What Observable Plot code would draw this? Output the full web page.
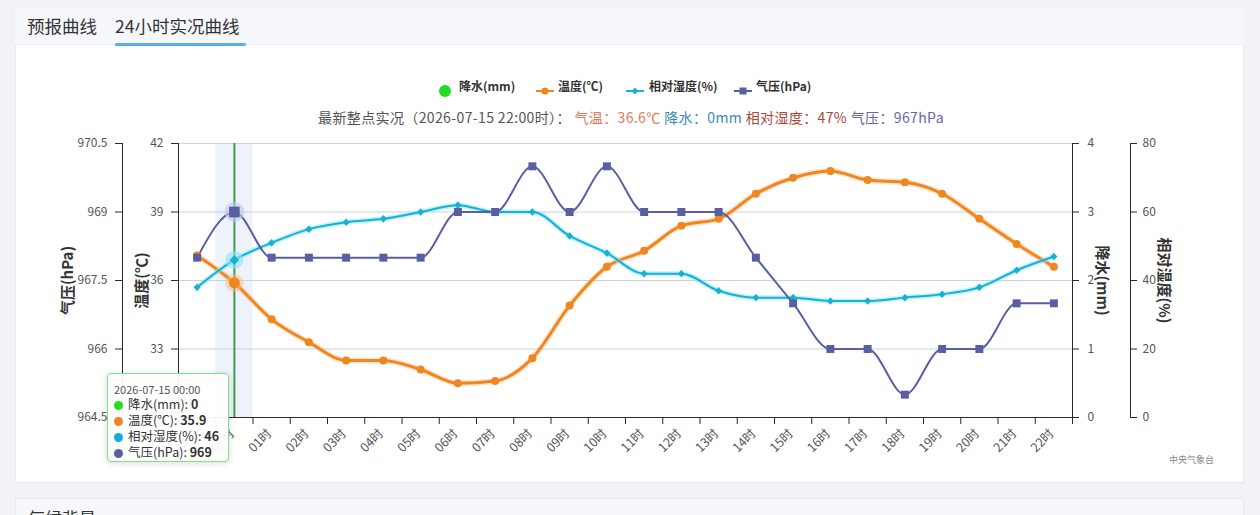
<!DOCTYPE html>
<html>
<head>
<meta charset="utf-8">
<script src="https://cdn.jsdelivr.net/npm/d3@7"></script>
<script src="https://cdn.jsdelivr.net/npm/@observablehq/plot@0.6"></script>
<style>
html,body{margin:0;padding:0;width:1260px;height:515px;overflow:hidden;background:#f1f3f6;font-family:"Noto Sans CJK SC","Noto Sans",sans-serif;}
.abs{position:absolute;white-space:nowrap;}
#card{position:absolute;left:15px;top:7px;width:1229px;height:476px;background:#fff;border:1px solid #e7eaef;box-sizing:border-box;}
#tabs{position:absolute;left:15px;top:7px;width:1229px;height:38px;background:#f5f7fb;border-bottom:1px solid #eceff3;box-sizing:border-box;}
.tab{font-size:17.5px;color:#333;top:13px;line-height:26px;}
#underline{position:absolute;left:115px;top:43px;width:131px;height:3px;background:#5aaeea;border-radius:2px;}
#card2{position:absolute;left:15px;top:498px;width:1229px;height:40px;background:#f6f8fb;border:1px solid #e7eaef;box-sizing:border-box;}
.leg{top:78px;font-size:12px;font-weight:bold;color:#333;line-height:16px;}
#subtitle{left:318px;top:107px;font-size:14px;letter-spacing:0.38px;color:#555;line-height:20px;}
#chart{position:absolute;left:0;top:130px;}
#tooltip{position:absolute;left:107px;top:373px;width:122px;height:89px;box-sizing:border-box;border:1.5px solid #86de86;border-radius:4px;background:rgba(255,255,255,0.93);box-shadow:0 1px 6px rgba(0,0,0,0.15);font-size:12.5px;color:#333;}
#tooltip .date{position:absolute;left:6px;top:7px;font-size:11px;color:#555;}
#tooltip .row{position:absolute;left:6px;line-height:15px;}
#tooltip .dot{display:inline-block;width:9px;height:9px;border-radius:50%;margin-right:5px;vertical-align:-1px;}
#credit{left:1169px;top:453px;font-size:9px;color:#888;}
</style>
</head>
<body>
<div id="card"></div>
<div id="tabs"></div>
<div class="abs tab" style="left:27px;">预报曲线</div>
<div class="abs tab" style="left:115px;">24小时实况曲线</div>
<div id="underline"></div>
<div id="legend"></div>
<div id="subtitle" class="abs"></div>
<div id="chart"></div>
<div id="tooltip"></div>
<div id="credit" class="abs">中央气象台</div>
<div id="card2"><div class="abs" style="left:12px;top:6px;font-size:17px;color:#333;">气候背景</div></div>
<script>
// ---------------- data ----------------
const hours = ["23时","00时","01时","02时","03时","04时","05时","06时","07时","08时","09时","10时",
               "11时","12时","13时","14时","15时","16时","17时","18时","19时","20时","21时","22时"];
const precip   = [0,0,0,0,0,0,0,0,0,0,0,0,0,0,0,0,0,0,0,0,0,0,0,0];
const temp     = [37.1,35.9,34.3,33.3,32.5,32.5,32.1,31.5,31.6,32.6,34.9,36.6,
                  37.3,38.4,38.7,39.8,40.5,40.8,40.4,40.3,39.8,38.7,37.6,36.6];
const humidity = [38,46,51,55,57,58,60,62,60,60,53,48,42,42,37,35,35,34,34,35,36,38,43,47];
const pressure = [968,969,968,968,968,968,968,969,969,970,969,970,969,969,969,968,967,966,966,965,966,966,967,967];
const tempTicks     = [30,33,36,39,42];
const pressureTicks = [964.5,966,967.5,969,970.5];
const precipTicks   = [0,1,2,3,4];
const humidityTicks = [0,20,40,60,80];
const hoverIndex = 1;
const hoverDate = "2026-07-15 00:00";
const latestTime = "2026-07-15 22:00时";
const seriesNames = ["降水(mm)","温度(℃)","相对湿度(%)","气压(hPa)"];
const colors = {rain:"#22dd22", temp:"#f0861f", hum:"#16b1d4", pres:"#5a5ea3"};

// ---------------- mapping every series onto the shared (temperature) y scale ----------------
const T0 = d3.min(tempTicks), T1 = d3.max(tempTicks);
const lin = (ticks) => { const a = d3.min(ticks), b = d3.max(ticks); return v => T0 + (v - a) / (b - a) * (T1 - T0); };
const fromPressure = lin(pressureTicks), fromHumidity = lin(humidityTicks), fromPrecip = lin(precipTicks);

const data = hours.map((h, i) => ({i, h, rain: precip[i], temp: temp[i], hum: humidity[i], pres: pressure[i]}));
const hover = data.filter(d => d.i === hoverIndex);
const n = hours.length;
const xLo = -0.5, xHi = n - 0.5;
const boundaries = d3.range(n + 1).map(k => k - 0.5);

// ---------------- layout ----------------
const W = 1260, H = 345, mL = 178, mR = 188, mT = 13, mB = 58;
const pxX = (W - mL - mR) / n;              // pixels per category
const pxY = (H - mT - mB) / (T1 - T0);      // pixels per °C
const tickX = 7 / pxX, tickY = 7 / pxY;     // tick length in data units
const offPres = -56, offHum = 58;           // extra axis offsets

const diamond = {draw(ctx, size) { const r = Math.sqrt(size / Math.PI); ctx.moveTo(0,-r); ctx.lineTo(r*0.92,0); ctx.lineTo(0,r); ctx.lineTo(-r*0.92,0); ctx.closePath(); }};

const axisColor = "#2b2b2b", labelColor = "#555";
const titleStyle = {fontWeight: "bold", fontSize: 15, fill: "#333"};

const chart = Plot.plot({
  width: W, height: H,
  marginLeft: mL, marginRight: mR, marginTop: mT, marginBottom: mB,
  x: {type: "linear", domain: [xLo, xHi], axis: null},
  y: {type: "linear", domain: [T0, T1], axis: null},
  style: {fontFamily: '"Noto Sans CJK SC","Noto Sans",sans-serif', fontSize: "12px", background: "transparent", overflow: "visible"},
  marks: [
    // hover band
    Plot.rect([hoverIndex], {x1: d => d - 0.5, x2: d => d + 0.5, y1: T0, y2: T1, fill: "#eef2fb"}),
    // grid
    Plot.ruleY(tempTicks.filter(t => t !== T0), {stroke: "#c9d3dd", strokeWidth: 1}),
    // precipitation bars (all zero)
    Plot.rect(data, {x1: d => d.i - 0.3, x2: d => d.i + 0.3, y1: T0, y2: d => fromPrecip(d.rain), fill: colors.rain}),
    // hover line
    Plot.ruleX([hoverIndex], {y1: T0, y2: T1, stroke: "#3e9b52", strokeWidth: 2}),
    // axis lines
    Plot.ruleX([xLo], {y1: T0, y2: T1, stroke: axisColor}),
    Plot.ruleX([xLo], {y1: T0, y2: T1, stroke: axisColor, dx: offPres}),
    Plot.ruleX([xHi], {y1: T0, y2: T1, stroke: axisColor}),
    Plot.ruleX([xHi], {y1: T0, y2: T1, stroke: axisColor, dx: offHum}),
    Plot.ruleY([T0], {x1: xLo, x2: xHi, stroke: axisColor}),
    // x ticks + labels
    Plot.ruleX(boundaries, {y1: T0, y2: T0 - tickY, stroke: axisColor}),
    Plot.text(data, {x: "i", y: T0, text: "h", dy: 14, dx: -2, rotate: -45, textAnchor: "end", lineAnchor: "middle", fill: labelColor, fontSize: 12.5}),
    // temperature axis
    Plot.ruleY(tempTicks, {x1: xLo - tickX, x2: xLo, stroke: axisColor}),
    Plot.text(tempTicks, {x: xLo, y: d => d, text: d => String(d), dx: -15, textAnchor: "end", fill: labelColor}),
    // pressure axis
    Plot.ruleY(pressureTicks, {x1: xLo - tickX, x2: xLo, y: d => fromPressure(d), stroke: axisColor, dx: offPres}),
    Plot.text(pressureTicks, {x: xLo, y: d => fromPressure(d), text: d => String(d), dx: offPres - 15, textAnchor: "end", fill: labelColor}),
    // precipitation axis
    Plot.ruleY(precipTicks, {x1: xHi, x2: xHi + tickX, y: d => fromPrecip(d), stroke: axisColor}),
    Plot.text(precipTicks, {x: xHi, y: d => fromPrecip(d), text: d => String(d), dx: 15, textAnchor: "start", fill: labelColor}),
    // humidity axis
    Plot.ruleY(humidityTicks, {x1: xHi, x2: xHi + tickX, y: d => fromHumidity(d), stroke: axisColor, dx: offHum}),
    Plot.text(humidityTicks, {x: xHi, y: d => fromHumidity(d), text: d => String(d), dx: offHum + 12, textAnchor: "start", fill: labelColor}),
    // axis titles
    Plot.text([seriesNames[3]], {x: xLo, y: (T0 + T1) / 2, dx: -110, rotate: -90, ...titleStyle}),
    Plot.text([seriesNames[1]], {x: xLo, y: (T0 + T1) / 2, dx: -36, rotate: -90, ...titleStyle}),
    Plot.text([seriesNames[0]], {x: xHi, y: (T0 + T1) / 2, dx: 29, rotate: 90, ...titleStyle}),
    Plot.text([seriesNames[2]], {x: xHi, y: (T0 + T1) / 2, dx: 91, rotate: 90, ...titleStyle}),
    // lines
    Plot.line(data, {x: "i", y: "temp", curve: "monotone-x", stroke: "#f8bf86", strokeWidth: 6, strokeOpacity: 0.4}),
    Plot.line(data, {x: "i", y: "temp", curve: "monotone-x", stroke: colors.temp, strokeWidth: 3}),
    Plot.line(data, {x: "i", y: d => fromHumidity(d.hum), curve: "monotone-x", stroke: "#86e6f7", strokeWidth: 5, strokeOpacity: 0.5}),
    Plot.line(data, {x: "i", y: d => fromHumidity(d.hum), curve: "monotone-x", stroke: colors.hum, strokeWidth: 2}),
    Plot.line(data, {x: "i", y: d => fromPressure(d.pres), curve: "monotone-x", stroke: colors.pres, strokeWidth: 2}),
    // markers
    Plot.dot(data, {x: "i", y: "temp", r: 4, fill: colors.temp}),
    Plot.dot(data, {x: "i", y: d => fromHumidity(d.hum), r: 3.8, symbol: diamond, fill: colors.hum}),
    Plot.dot(data, {x: "i", y: d => fromPressure(d.pres), r: 4.5, symbol: "square", fill: colors.pres}),
    // hover emphasis
    Plot.dot(hover, {x: "i", y: "temp", r: 9, fill: "#f8b878", fillOpacity: 0.45}),
    Plot.dot(hover, {x: "i", y: "temp", r: 5.5, fill: colors.temp}),
    Plot.dot(hover, {x: "i", y: d => fromHumidity(d.hum), r: 9, fill: "#8fe3f5", fillOpacity: 0.6}),
    Plot.dot(hover, {x: "i", y: d => fromHumidity(d.hum), r: 5, symbol: diamond, fill: colors.hum}),
    Plot.dot(hover, {x: "i", y: d => fromPressure(d.pres), r: 10, fill: "#c3c6e6", fillOpacity: 0.6}),
    Plot.dot(hover, {x: "i", y: d => fromPressure(d.pres), r: 6, symbol: "square", fill: colors.pres})
  ]
});
document.getElementById("chart").appendChild(chart);

// ---------------- legend ----------------
const legendItems = [
  {name: seriesNames[0], color: colors.rain, icon: "circle", cx: 445, tx: 459},
  {name: seriesNames[1], color: colors.temp, icon: "lineCircle", cx: 545, tx: 558},
  {name: seriesNames[2], color: colors.hum, icon: "lineDiamond", cx: 635, tx: 649},
  {name: seriesNames[3], color: colors.pres, icon: "lineSquare", cx: 743, tx: 756}
];
const leg = document.getElementById("legend");
for (const it of legendItems) {
  let svg;
  if (it.icon === "circle") svg = `<svg width="14" height="14"><circle cx="7" cy="7" r="6" fill="${it.color}"/></svg>`;
  else {
    let m = it.icon === "lineCircle" ? `<circle cx="9" cy="7" r="3.5" fill="${it.color}"/>`
          : it.icon === "lineDiamond" ? `<path d="M9,3.5L12.5,7L9,10.5L5.5,7Z" fill="${it.color}"/>`
          : `<rect x="5.5" y="3.5" width="7" height="7" fill="${it.color}"/>`;
    svg = `<svg width="18" height="14"><line x1="0" y1="7" x2="18" y2="7" stroke="${it.color}" stroke-width="2"/>${m}</svg>`;
  }
  const w = it.icon === "circle" ? 14 : 18;
  leg.insertAdjacentHTML("beforeend", `<div class="abs" style="left:${it.cx - w/2}px;top:79px;height:14px;">${svg}</div>`);
  leg.insertAdjacentHTML("beforeend", `<div class="abs leg" style="left:${it.tx}px;">${it.name}</div>`);
}

// ---------------- subtitle ----------------
const last = n - 1;
document.getElementById("subtitle").innerHTML =
  `最新整点实况（${latestTime}）：<span style="color:#e27a57"> 气温：${temp[last]}℃</span>` +
  `<span style="color:#3d89b8"> 降水：${precip[last]}mm</span>` +
  `<span style="color:#a9473b"> 相对湿度：${humidity[last]}%</span>` +
  `<span style="color:#6466a8"> 气压：${pressure[last]}hPa</span>`;

// ---------------- tooltip ----------------
const tipRows = [
  [seriesNames[0], colors.rain, precip[hoverIndex]],
  [seriesNames[1], colors.temp, temp[hoverIndex]],
  [seriesNames[2], "#12a9e2", humidity[hoverIndex]],
  [seriesNames[3], colors.pres, pressure[hoverIndex]]
];
const tip = document.getElementById("tooltip");
tip.innerHTML = `<div class="abs date">${hoverDate}</div>` +
  tipRows.map((r, k) => `<div class="abs row" style="top:${22 + k * 16}px"><span class="dot" style="background:${r[1]}"></span>${r[0]}: <b>${r[2]}</b></div>`).join("");
</script>
</body>
</html>
